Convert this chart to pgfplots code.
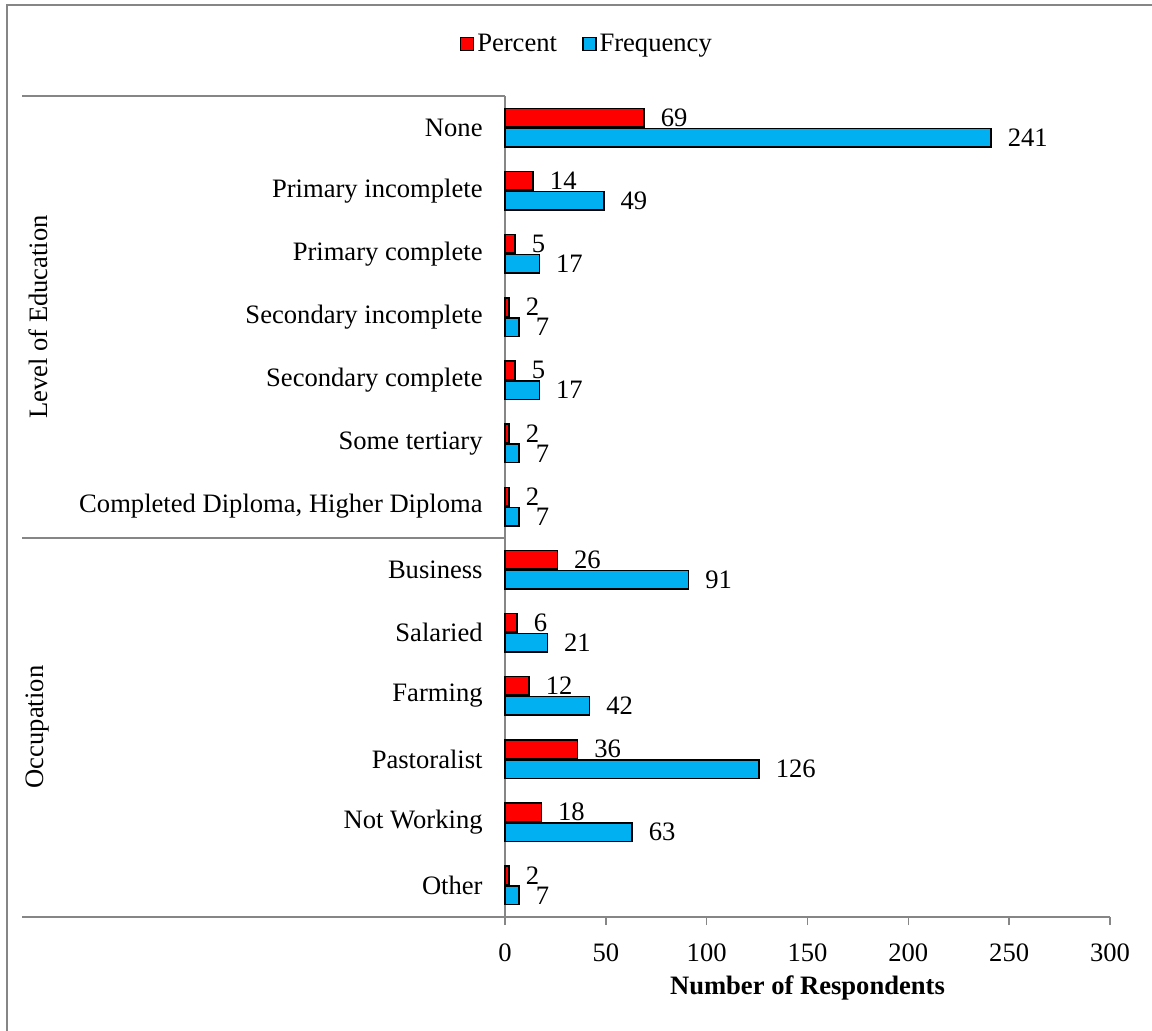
\documentclass[border=0pt]{standalone}
\usepackage{pgfplots}
\pgfplotsset{compat=1.18}
\usepackage{fontspec}
\setmainfont{Liberation Serif}
\definecolor{axgray}{RGB}{134,134,134}
\definecolor{pred}{RGB}{255,0,0}
\definecolor{fblue}{RGB}{0,176,240}
\newcommand{\fs}{\fontsize{13.3}{16}\selectfont}
\begin{document}
\begin{tikzpicture}
\useasboundingbox (0pt,0pt) rectangle (576pt,-515.5pt);
\draw[axgray, line width=0.75pt] (3.5pt,-530pt) -- (3.5pt,-2.5pt) -- (590pt,-2.5pt);
\begin{axis}[
  at={(252.5pt,-458.5pt)}, anchor=south west,
  scale only axis, width=302.5pt, height=410.5pt,
  xbar, y dir=reverse,
  xmin=0, xmax=300, ymin=-0.5, ymax=12.5,
  xtick={0,50,...,300},
  ytick={0,...,12},
  yticklabels={None,Primary incomplete,Primary complete,Secondary incomplete,Secondary complete,Some tertiary,{Completed Diploma, Higher Diploma},Business,Salaried,Farming,Pastoralist,Not Working,Other},
  axis x line*=bottom, axis y line*=left,
  axis line style={axgray, line width=0.75pt, -},
  x tick style={axgray, line width=0.75pt},
  major tick length=4pt, tick align=outside,
  y tick style={draw=none},
  tick label style={font=\fs},
  /pgf/number format/assume math mode=true,
  xticklabel style={inner sep=0pt, anchor=north, yshift=-9pt},
  yticklabel style={inner sep=0pt, anchor=east, xshift=-7pt},
  xlabel={\textbf{Number of Respondents}},
  xlabel style={font=\fs, at={(axis description cs:0.5,0)}, anchor=center, yshift=-35.5pt},
  bar width=9.25pt,
  point meta=x,
  nodes near coords,
  nodes near coords align={horizontal},
  every node near coord/.append style={font=\fs, anchor=west, inner sep=0pt, xshift=8pt, text=black},
  legend columns=2,
  legend style={at={(0.136,1.0633)}, anchor=center, draw=none, fill=none, font=\fs, inner sep=0pt,
    nodes={inner sep=1.5pt},
    /tikz/every even column/.append style={column sep=11pt}},
  legend image code/.code={\draw[#1, draw=black, line width=0.75pt] (0pt,-3.25pt) rectangle (6.5pt,3.25pt);},
  clip=false,
]
\addplot[fill=pred, draw=black, line width=0.75pt, bar shift=5pt] coordinates {
(69,0) (14,1) (5,2) (2,3) (5,4) (2,5) (2,6) (26,7) (6,8) (12,9) (36,10) (18,11) (2,12)};
\addplot[fill=fblue, draw=black, line width=0.75pt, bar shift=-5pt] coordinates {
(241,0) (49,1) (17,2) (7,3) (17,4) (7,5) (7,6) (91,7) (21,8) (42,9) (126,10) (63,11) (7,12)};
\legend{Percent,Frequency}
\end{axis}
\draw[axgray, line width=0.75pt] (11pt,-48pt) -- (252.5pt,-48pt);
\draw[axgray, line width=0.75pt] (11pt,-269pt) -- (252.5pt,-269pt);
\draw[axgray, line width=0.75pt] (11pt,-458.5pt) -- (252.5pt,-458.5pt);
\node[rotate=90, font=\fs] at (19pt,-158.5pt) {Level of Education};
\node[rotate=90, font=\fs] at (19pt,-363.5pt) {Occupation};
\end{tikzpicture}
\end{document}
